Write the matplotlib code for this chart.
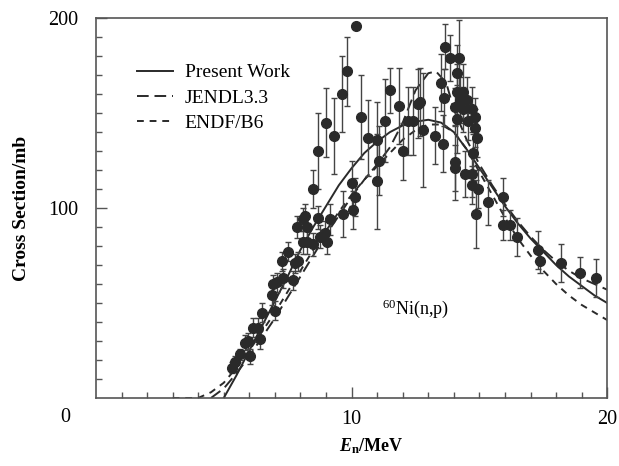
import numpy as np
import matplotlib.pyplot as plt

# measured 60Ni(n,p) cross sections (MeV, mb, error mb)
exp_E = [5.32, 5.44, 5.64, 5.83, 5.95, 6.03, 6.15, 6.34, 6.42, 6.50,
         6.89, 6.93, 7.00, 7.08, 7.28, 7.32, 7.51, 7.70, 7.79, 7.90,
         7.87, 8.10, 8.10, 8.26, 8.26, 8.50, 8.18, 8.70, 8.77, 8.96,
         9.04, 9.16, 9.67, 10.06, 10.14, 10.00, 8.50, 8.69, 9.00, 9.30,
         9.63, 9.82, 10.18, 10.37, 10.65, 11.00, 11.08, 11.00, 11.30, 11.50,
         11.86, 12.00, 12.20, 12.40, 12.60, 12.68, 12.80, 13.27, 13.58, 14.05,
         14.13, 13.50, 13.66, 13.86, 14.20, 14.13, 13.60, 14.13, 14.36, 14.25,
         14.50, 14.05, 14.36, 14.70, 14.56, 14.83, 14.83, 14.90, 14.75, 14.05,
         14.44, 14.70, 14.70, 14.95, 15.34, 14.87, 15.93, 15.93, 16.20, 16.48,
         17.30, 17.38, 18.20, 18.94, 19.57]
exp_sig = [16, 19, 23, 29, 30, 22, 37, 37, 31, 45,
           54, 60, 46, 61, 72, 63, 77, 62, 71, 72,
           90, 82, 94, 82, 90, 81, 96, 95, 85, 87,
           82, 94, 97, 99, 106, 113, 110, 130, 145, 138,
           160, 172, 196, 148, 137, 136, 125, 114, 146, 162,
           154, 130, 146, 146, 155, 156, 141, 138, 134, 124,
           147, 166, 185, 179, 179, 171, 158, 161, 161, 157,
           157, 153, 152, 152, 146, 148, 142, 137, 129, 121,
           118, 118, 112, 110, 103, 97, 106, 91, 91, 85,
           78, 72, 71, 66, 63]
exp_err = [3, 3, 3, 4, 4, 4, 5, 5, 5, 5,
           5, 5, 5, 5, 5, 5, 5, 5, 5, 5,
           6, 6, 6, 6, 6, 6, 6, 6, 6, 6,
           6, 8, 12, 10, 10, 12, 10, 20, 18, 20,
           20, 18, 0, 22, 20, 20, 18, 25, 22, 12,
           20, 15, 18, 18, 18, 18, 30, 15, 15, 20,
           18, 15, 12, 12, 20, 15, 15, 15, 15, 12,
           12, 10, 12, 12, 10, 10, 10, 10, 10, 12,
           12, 12, 10, 10, 12, 18, 10, 8, 8, 10,
           10, 6, 10, 8, 10]

# evaluated curves
pw_E = [5.0, 5.5, 6.0, 6.5, 7.0, 7.5, 8.0, 8.5, 9.0, 9.5, 10.0, 10.5, 11.0, 11.5,
        12.0, 12.5, 13.0, 13.5, 14.0, 14.5, 15.0, 15.5, 16.0, 16.5, 17.0, 17.5,
        18.0, 18.5, 19.0, 19.5, 20.0]
pw_sig = [0, 12, 25, 38, 51, 64, 78, 90, 101, 112, 121, 129, 135, 140,
          143.5, 145.5, 146.5, 145, 140, 131, 121, 111, 101, 92, 84, 77,
          70, 64, 59, 54, 50]

jendl_E = [4.5, 5.0, 5.5, 6.0, 6.5, 7.0, 7.5, 8.0, 8.5, 9.0, 9.5, 10.0, 10.5, 11.0,
           11.5, 12.0, 12.5, 13.0, 13.3, 13.7, 14.0, 14.5, 15.0, 15.5, 16.0, 16.5,
           17.0, 17.5, 18.0, 18.5, 19.0, 19.5, 20.0]
jendl_sig = [0, 5, 13, 22, 32, 42, 53, 64, 75, 86, 96, 106, 115, 123,
             132, 145, 162, 171, 172, 166, 152, 136, 123, 112, 102, 93,
             85, 78, 72, 67, 63, 60, 57]

endf_E = [3.0, 4.0, 4.5, 5.0, 5.5, 6.0, 6.5, 7.0, 7.5, 8.0, 8.5, 9.0, 9.5, 10.0,
          10.5, 11.0, 11.5, 12.0, 12.5, 13.0, 13.5, 14.0, 14.5, 15.0, 15.5, 16.0,
          16.5, 17.0, 17.5, 18.0, 18.5, 19.0, 19.5, 20.0]
endf_sig = [0, 0, 3, 8, 16, 25, 35, 45, 56, 67, 78, 88, 98, 107,
            115, 122, 129, 136, 141, 144, 144, 140, 131, 119, 107, 95,
            84, 75, 67, 60, 54, 49, 45, 41]

plt.rcParams['font.family'] = ['Liberation Serif', 'DejaVu Serif']
plt.rcParams['mathtext.fontset'] = 'custom'
plt.rcParams['mathtext.rm'] = 'Liberation Serif'
plt.rcParams['mathtext.it'] = 'Liberation Serif:italic:bold'
plt.rcParams['mathtext.bf'] = 'Liberation Serif:bold'
ink = '#2a2a2a'

fig = plt.figure(figsize=(6.19, 4.66), dpi=100)
ax = fig.add_axes([0.155, 0.146, 0.826, 0.815])

ax.plot(pw_E, pw_sig, '-', color=ink, lw=1.4, label='Present Work')
ax.plot(jendl_E, jendl_sig, color=ink, lw=1.4, ls=(0, (6, 3)), label='JENDL3.3')
ax.plot(endf_E, endf_sig, color=ink, lw=1.4, ls=(0, (3.5, 3)), label='ENDF/B6')
ax.errorbar(exp_E, exp_sig, yerr=exp_err, fmt='o', color=ink, ms=7,
            ecolor='#444444', elinewidth=1.0, capsize=2.5, capthick=1.0, zorder=3)

ax.set_xlim(0, 20)
ax.set_ylim(0, 200)
ax.set_xticks([10, 20])
ax.set_xticklabels(['10', '20'])
ax.set_xticks(np.arange(1, 20), minor=True)
ax.set_yticks([100, 200])
ax.set_yticklabels(['100', '200'])
ax.set_yticks(np.arange(10, 200, 10), minor=True)
ax.tick_params(which='both', direction='in', colors='#555555', labelcolor='black',
               labelsize=14.5)
ax.tick_params(which='major', length=8, width=1.0)
ax.tick_params(which='minor', length=4.5, width=1.0)
ax.tick_params(axis='y', pad=13)
ax.tick_params(axis='x', pad=9)
for s in ax.spines.values():
    s.set_color('#555555')
    s.set_linewidth(1.2)

ax.text(-1.2, -10.5, '0', fontsize=14.5, ha='center', va='center')
ax.set_ylabel('Cross Section/mb', fontsize=14, fontweight='bold')
ax.yaxis.set_label_coords(-0.128, 0.5)
ax.set_xlabel(r'$\mathit{E}_{\mathbf{n}}$/MeV', fontsize=13, fontweight='bold')
ax.xaxis.set_label_coords(0.538, -0.1)
ax.text(12.5, 47, r'$^{60}$Ni(n,p)', fontsize=13, ha='center', va='center')

ax.legend(loc='upper left', bbox_to_anchor=(0.08, 0.88), frameon=False, fontsize=14,
          handlelength=1.85, handletextpad=0.62, labelspacing=0.39, borderpad=0,
          borderaxespad=0, numpoints=1)

fig.savefig('out.png', dpi=100)
